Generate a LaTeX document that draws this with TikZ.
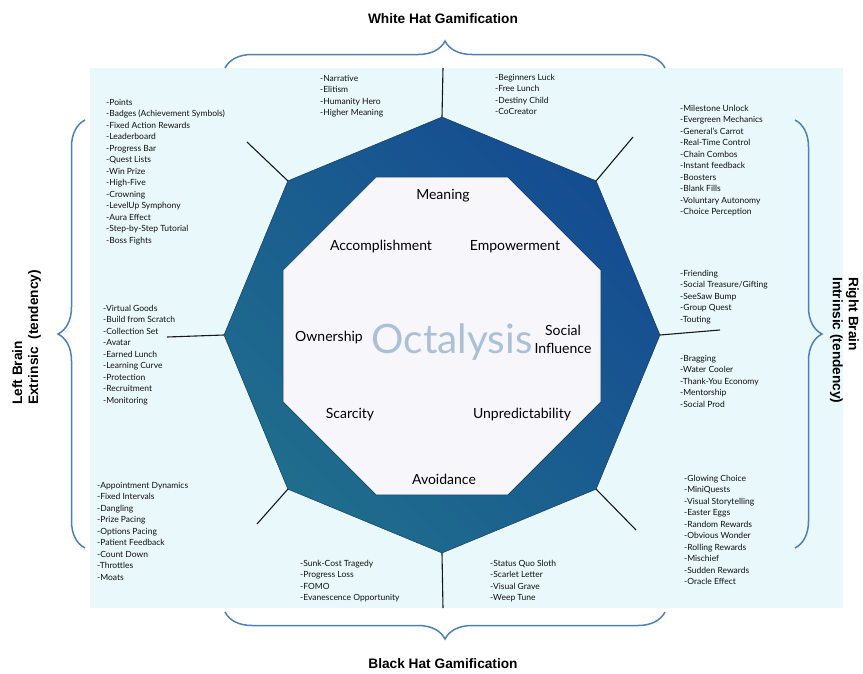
\documentclass[tikz,border=0pt]{standalone}
\usepackage{fontspec}
\setmainfont{Lato}
\newfontfamily\hatfont{Liberation Sans}
\usetikzlibrary{shapes.geometric,decorations.pathreplacing}

\definecolor{octback}{HTML}{E9F8FA}
\definecolor{octnavy}{HTML}{154C91}
\definecolor{octteal}{HTML}{1F6D8D}
\definecolor{octedge}{HTML}{0E2F5A}
\definecolor{octinner}{HTML}{F7F7FB}
\definecolor{octlogo}{HTML}{ABC0D7}
\definecolor{bracecol}{HTML}{4E7FBA}
\definecolor{listcol}{HTML}{111111}

\tikzset{
  techlist/.style={anchor=north west, align=left, inner sep=0pt, text=listcol,
    font=\fontsize{8.5}{11.5}\selectfont},
  drive/.style={inner sep=0pt, text=black, font=\fontsize{14}{18}\selectfont},
  spoke/.style={line width=1.1pt, black!90},
  hatbrace/.style={draw=bracecol, line width=1.5pt, decorate,
    decoration={brace, amplitude=27pt}},
  hattitle/.style={inner sep=0pt, font=\hatfont\bfseries\fontsize{13.7}{16}\selectfont},
}

\begin{document}
\begin{tikzpicture}[x=1pt, y=-1pt]
\useasboundingbox ( 0, 0 ) rectangle ( 863, 673 );
\fill[octback] ( 90, 68 ) rectangle ( 843, 608 );

% Achteck aussen / innen
\node[regular polygon, regular polygon sides=8, shape border rotate=22.5,
  minimum size=436pt, inner sep=0pt, outer sep=0pt, draw=octedge,
  top color=octnavy, bottom color=octteal, shading angle=-45] (outer) at ( 442, 335 ) {};
\node[regular polygon, regular polygon sides=8, minimum size=344pt,
  inner sep=0pt, outer sep=0pt, draw=octedge, fill=octinner] (inner) at ( 442, 336 ) {};

% Speichen
\coordinate (topend)   at ( 443,  68 );
\coordinate (trend)    at ( 633, 137 );
\coordinate (rightend) at ( 720, 330 );
\coordinate (brend)    at ( 636, 530 );
\coordinate (botend)   at ( 443, 608 );
\coordinate (blend)    at ( 257, 524 );
\coordinate (leftend)  at ( 167, 337 );
\coordinate (tlend)    at ( 247, 142 );
\draw[spoke] (outer.90)  -- (topend);
\draw[spoke] (outer.45)  -- (trend);
\draw[spoke] (outer.0)   -- (rightend);
\draw[spoke] (outer.-45) -- (brend);
\draw[spoke] (outer.-90) -- (botend);
\draw[spoke] (outer.-135) -- (blend);
\draw[spoke] (outer.180) -- (leftend);
\draw[spoke] (outer.135) -- (tlend);

% Kerntriebe
\node[drive] (meaning)  at ( 443, 196 ) {Meaning};
\node[drive] (accomp)   at ( 381, 247 ) {Accomplishment};
\node[drive] (empower)  at ( 515, 247 ) {Empowerment};
\node[drive] (owner)    at ( 329, 338 ) {Ownership};
\node[drive, align=center] (social) at ( 563, 339 ) {Social\\Influence};
\node[drive] (scarce)   at ( 350, 415 ) {Scarcity};
\node[drive] (unpred)   at ( 522, 415 ) {Unpredictability};
\node[drive] (avoid)    at ( 444, 479 ) {Avoidance};
\node[inner sep=0pt, text=octlogo, font=\fontsize{40.5}{44}\selectfont] (logo) at ( 452, 342 ) {Octalysis};

% Techniken
\node[techlist] (tlist) at ( 106, 99 ) {-Points\\-Badges (Achievement Symbols)\\-Fixed Action Rewards\\-Leaderboard\\-Progress Bar\\-Quest Lists\\-Win Prize\\-High-Five\\-Crowning\\-LevelUp Symphony\\-Aura Effect\\-Step-by-Step Tutorial\\-Boss Fights};
\node[techlist] (nlist) at ( 320, 75 ) {-Narrative\\-Elitism\\-Humanity Hero\\-Higher Meaning};
\node[techlist] (blist) at ( 495, 74 ) {-Beginners Luck\\-Free Lunch\\-Destiny Child\\-CoCreator};
\node[techlist] (mlist) at ( 680, 105 ) {-Milestone Unlock\\-Evergreen Mechanics\\-General's Carrot\\-Real-Time Control\\-Chain Combos\\-Instant feedback\\-Boosters\\-Blank Fills\\-Voluntary Autonomy\\-Choice Perception};
\node[techlist] (vlist) at ( 103, 305 ) {-Virtual Goods\\-Build from Scratch\\-Collection Set\\-Avatar\\-Earned Lunch\\-Learning Curve\\-Protection\\-Recruitment\\-Monitoring};
\node[techlist] (flist) at ( 680, 270 ) {-Friending\\-Social Treasure/Gifting\\-SeeSaw Bump\\-Group Quest\\-Touting};
\node[techlist] (glist) at ( 680, 355 ) {-Bragging\\-Water Cooler\\-Thank-You Economy\\-Mentorship\\-Social Prod};
\node[techlist] (alist) at ( 97, 482 ) {-Appointment Dynamics\\-Fixed Intervals\\-Dangling\\-Prize Pacing\\-Options Pacing\\-Patient Feedback\\-Count Down\\-Throttles\\-Moats};
\node[techlist] (clist) at ( 684, 475 ) {-Glowing Choice\\-MiniQuests\\-Visual Storytelling\\-Easter Eggs\\-Random Rewards\\-Obvious Wonder\\-Rolling Rewards\\-Mischief\\-Sudden Rewards\\-Oracle Effect};
\node[techlist] (slist) at ( 300, 560 ) {-Sunk-Cost Tragedy\\-Progress Loss\\-FOMO\\-Evanescence Opportunity};
\node[techlist] (qlist) at ( 490, 560 ) {-Status Quo Sloth\\-Scarlet Letter\\-Visual Grave\\-Weep Tune};

% Klammern
\coordinate (wl) at ( 225,  68 );
\coordinate (wr) at ( 665,  68 );
\coordinate (bl) at ( 225, 612 );
\coordinate (br) at ( 665, 612 );
\coordinate (lb) at (  85, 548 );
\coordinate (lt) at (  85, 120 );
\coordinate (rt) at ( 795, 120 );
\coordinate (rb) at ( 795, 548 );
\draw[hatbrace] (wl) -- (wr);
\draw[hatbrace] (br) -- (bl);
\draw[hatbrace] (lb) -- (lt);
\draw[hatbrace] (rt) -- (rb);

\node[hattitle] (white) at ( 443,  19 ) {White Hat Gamification};
\node[hattitle] (black) at ( 443, 664 ) {Black Hat Gamification};
\node[hattitle, rotate=90, align=left, anchor=north west] (leftbrain) at ( 12, 405 ) {Left Brain\\Extrinsic\ \ (tendency)};
\node[hattitle, rotate=-90, align=left, anchor=north west] (rightbrain) at ( 859, 277 ) {Right Brain\\Intrinsic (tendency)};

\end{tikzpicture}
\end{document}
